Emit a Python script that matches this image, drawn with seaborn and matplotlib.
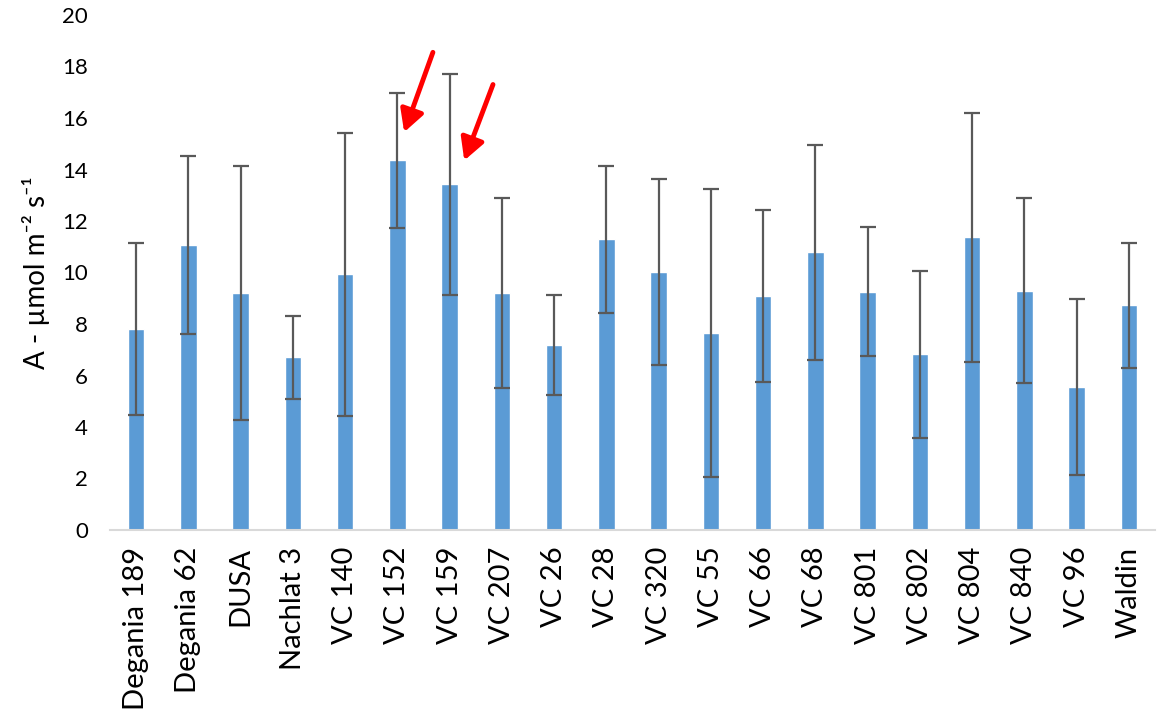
import matplotlib
matplotlib.use("Agg")
import matplotlib.pyplot as plt
import seaborn as sns
import numpy as np
import pandas as pd

categories = ["Degania 189", "Degania 62", "DUSA", "Nachlat 3", "VC 140", "VC 152",
              "VC 159", "VC 207", "VC 26", "VC 28", "VC 320", "VC 55", "VC 66", "VC 68",
              "VC 801", "VC 802", "VC 804", "VC 840", "VC 96", "Waldin"]
means = [7.79, 11.07, 9.19, 6.70, 9.93, 14.35, 13.42, 9.19, 7.18, 11.29,
         10.03, 7.65, 9.09, 10.79, 9.26, 6.82, 11.36, 9.30, 5.56, 8.72]
errors = [3.34, 3.47, 4.93, 1.60, 5.49, 2.64, 4.29, 3.69, 1.95, 2.86,
          3.62, 5.58, 3.34, 4.18, 2.52, 3.25, 4.85, 3.59, 3.41, 2.43]
y_ticks = [0, 2, 4, 6, 8, 10, 12, 14, 16, 18, 20]
y_label = "A - µmol m⁻² s⁻¹"

# highlight arrows: (tail_x, tail_y, head_x, head_y) in data coordinates
arrows = [(5.68, 18.55, 5.13, 15.45), (6.83, 17.3, 6.28, 14.35)]

sns.set_theme(style="white")
plt.rcParams['font.family'] = ['Lato', 'DejaVu Sans']

df = pd.DataFrame({"cultivar": categories, "A": means, "sd": errors})

fig = plt.figure(figsize=(11.68, 7.16), dpi=100)
ax = fig.add_axes([110/1168, 1 - 530/716, 1045/1168, 515/716])

sns.barplot(data=df, x="cultivar", y="A", color="#5B9BD5", saturation=1,
            width=0.32, ax=ax, errorbar=None)
xpos = np.arange(len(categories))
ax.errorbar(xpos, df["A"], yerr=df["sd"], fmt="none", ecolor="#595959",
            elinewidth=1.6, capsize=5.5, capthick=1.6, zorder=3)

for tx, ty, hx, hy in arrows:
    ax.annotate("", xy=(hx, hy), xytext=(tx, ty),
                arrowprops=dict(arrowstyle="-|>,head_length=1.1,head_width=0.6",
                                color="red", lw=3.5, shrinkA=0, shrinkB=0),
                annotation_clip=False)

ax.set_xlim(-0.5, len(categories) - 0.5)
ax.set_ylim(0, 20)
ax.set_yticks(y_ticks)
ax.set_yticklabels([str(t) for t in y_ticks], fontsize=16, color="#000000")
ax.set_xticks(xpos)
ax.set_xticklabels(categories, rotation=90, fontsize=21, color="#000000", va="top", ha="center")
ax.tick_params(axis="y", length=0, pad=16)
ax.tick_params(axis="x", length=0, pad=12)
ax.set_xlabel("")
ax.set_ylabel(y_label, fontsize=20, color="#000000")
ax.yaxis.set_label_coords(-0.057, 0.5)

for s in ["top", "right", "left"]:
    ax.spines[s].set_visible(False)
ax.spines["bottom"].set_color("#D9D9D9")
ax.spines["bottom"].set_linewidth(1.5)
ax.grid(False)

fig.savefig("out.png", dpi=100, facecolor="white")
